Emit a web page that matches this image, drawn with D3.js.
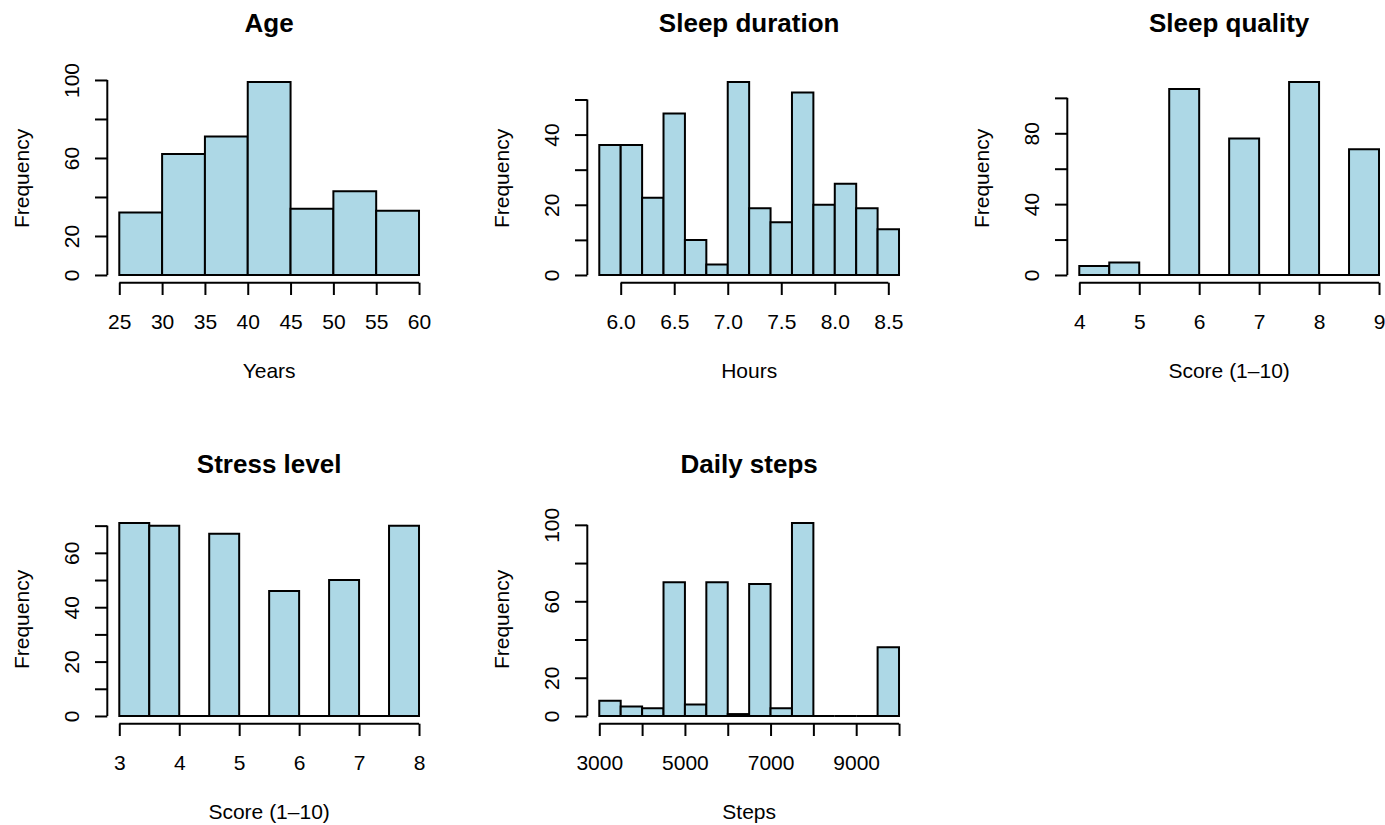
<!DOCTYPE html>
<html>
<head>
<meta charset="utf-8">
<script src="https://cdn.jsdelivr.net/npm/d3@7"></script>
<style>
  html, body { margin: 0; padding: 0; background: #fff; }
  svg { display: block; }
  text { font-family: "Liberation Sans", Arial, Helvetica, sans-serif; fill: #000; }
</style>
</head>
<body>
<svg id="chart" width="1385" height="825"></svg>
<script>
// ---- Data ----
const titles = ["Age", "Sleep duration", "Sleep quality", "Stress level", "Daily steps"];
const xTitles = ["Years", "Hours", "Score (1–10)", "Score (1–10)", "Steps"];

const ageBreaks = [25, 30, 35, 40, 45, 50, 55, 60];
const ageCounts = [32, 62, 71, 99, 34, 43, 33];

const sleepDurBreaks = [5.8, 6.0, 6.2, 6.4, 6.6, 6.8, 7.0, 7.2, 7.4, 7.6, 7.8, 8.0, 8.2, 8.4, 8.6];
const sleepDurCounts = [37, 37, 22, 46, 10, 3, 55, 19, 15, 52, 20, 26, 19, 13];

const sleepQualBreaks = [4, 4.5, 5, 5.5, 6, 6.5, 7, 7.5, 8, 8.5, 9];
const sleepQualCounts = [5, 7, 0, 105, 0, 77, 0, 109, 0, 71];

const stressBreaks = [3, 3.5, 4, 4.5, 5, 5.5, 6, 6.5, 7, 7.5, 8];
const stressCounts = [71, 70, 0, 67, 0, 46, 0, 50, 0, 70];

const stepsBreaks = [3000, 3500, 4000, 4500, 5000, 5500, 6000, 6500, 7000, 7500, 8000, 8500, 9000, 9500, 10000];
const stepsCounts = [8, 5, 4, 70, 6, 70, 1, 69, 4, 101, 0, 0, 0, 36];

const ageXTicks = [25, 30, 35, 40, 45, 50, 55, 60];
const ageXLabels = ["25", "30", "35", "40", "45", "50", "55", "60"];
const sleepDurXTicks = [6.0, 6.5, 7.0, 7.5, 8.0, 8.5];
const sleepDurXLabels = ["6.0", "6.5", "7.0", "7.5", "8.0", "8.5"];
const sleepQualXTicks = [4, 5, 6, 7, 8, 9];
const sleepQualXLabels = ["4", "5", "6", "7", "8", "9"];
const stressXTicks = [3, 4, 5, 6, 7, 8];
const stressXLabels = ["3", "4", "5", "6", "7", "8"];
const stepsXTicks = [3000, 4000, 5000, 6000, 7000, 8000, 9000, 10000];
const stepsXLabels = ["3000", "", "5000", "", "7000", "", "9000", ""];

const ageYTicks = [0, 20, 40, 60, 80, 100];
const ageYLabels = ["0", "20", "", "60", "", "100"];
const sleepDurYTicks = [0, 10, 20, 30, 40, 50];
const sleepDurYLabels = ["0", "", "20", "", "40", ""];
const sleepQualYTicks = [0, 20, 40, 60, 80, 100];
const sleepQualYLabels = ["0", "", "40", "", "80", ""];
const stressYTicks = [0, 10, 20, 30, 40, 50, 60, 70];
const stressYLabels = ["0", "", "20", "", "40", "", "60", ""];
const stepsYTicks = [0, 20, 40, 60, 80, 100];
const stepsYLabels = ["0", "20", "", "60", "", "100"];

const panels = [
  { breaks: ageBreaks, counts: ageCounts, xt: ageXTicks, xl: ageXLabels, yt: ageYTicks, yl: ageYLabels },
  { breaks: sleepDurBreaks, counts: sleepDurCounts, xt: sleepDurXTicks, xl: sleepDurXLabels, yt: sleepDurYTicks, yl: sleepDurYLabels },
  { breaks: sleepQualBreaks, counts: sleepQualCounts, xt: sleepQualXTicks, xl: sleepQualXLabels, yt: sleepQualYTicks, yl: sleepQualYLabels },
  { breaks: stressBreaks, counts: stressCounts, xt: stressXTicks, xl: stressXLabels, yt: stressYTicks, yl: stressYLabels },
  { breaks: stepsBreaks, counts: stepsCounts, xt: stepsXTicks, xl: stepsXLabels, yt: stepsYTicks, yl: stepsYLabels }
];

// ---- Layout ----
const colStep = 480, rowStep = 441;
const plotL = 107.3, plotR = 431, plotT = 74.2, plotB = 282.7;
const fontSize = 21;
const tickLen = 12.3;
const lw = 2;
const fill = "#ADD8E6";

const svg = d3.select("#chart");

panels.forEach((p, i) => {
  const col = i % 3, row = Math.floor(i / 3);
  const g = svg.append("g").attr("transform", `translate(${col * colStep},${row * rowStep})`);

  const xmin = p.breaks[0], xmax = p.breaks[p.breaks.length - 1];
  const xr = xmax - xmin;
  const x = d3.scaleLinear().domain([xmin - 0.04 * xr, xmax + 0.04 * xr]).range([plotL, plotR]);
  const ymax = d3.max(p.counts);
  const y = d3.scaleLinear().domain([-0.04 * ymax, 1.04 * ymax]).range([plotB, plotT]);

  // bars
  const bins = p.counts.map((c, k) => ({ x0: p.breaks[k], x1: p.breaks[k + 1], c }));
  g.selectAll("path.bar").data(bins).join("path")
    .attr("class", "bar")
    .attr("d", d => `M${x(d.x0)},${y(0)}V${y(d.c)}H${x(d.x1)}V${y(0)}Z`)
    .attr("fill", fill)
    .attr("stroke", "#000")
    .attr("stroke-width", lw)
    .attr("stroke-linejoin", "miter");

  // x axis
  const xAxis = d3.axisBottom(x).tickValues(p.xt)
    .tickFormat((d, k) => p.xl[k]).tickSizeInner(tickLen).tickSizeOuter(0);
  const gx = g.append("g").attr("transform", `translate(0,${plotB})`).call(xAxis);
  gx.select(".domain").remove();
  gx.append("line")
    .attr("x1", x(p.xt[0])).attr("x2", x(p.xt[p.xt.length - 1]))
    .attr("y1", 0).attr("y2", 0)
    .attr("stroke", "#000").attr("stroke-width", lw);
  gx.selectAll(".tick line").attr("stroke", "#000").attr("stroke-width", lw);
  gx.selectAll(".tick text")
    .attr("y", 329 - plotB).attr("dy", null)
    .attr("font-size", fontSize)
    .attr("font-family", null);
  gx.attr("font-family", null).attr("font-size", null);

  // y axis
  const yAxis = d3.axisLeft(y).tickValues(p.yt)
    .tickFormat((d, k) => p.yl[k]).tickSizeInner(tickLen).tickSizeOuter(0);
  const gy = g.append("g").attr("transform", `translate(${plotL},0)`).call(yAxis);
  gy.select(".domain").remove();
  gy.append("line")
    .attr("x1", 0).attr("x2", 0)
    .attr("y1", y(p.yt[0])).attr("y2", y(p.yt[p.yt.length - 1]))
    .attr("stroke", "#000").attr("stroke-width", lw);
  gy.selectAll(".tick line").attr("stroke", "#000").attr("stroke-width", lw);
  gy.selectAll(".tick text")
    .attr("x", null).attr("dy", null)
    .attr("text-anchor", "middle")
    .attr("transform", `translate(${78.5 - plotL},0) rotate(-90)`)
    .attr("font-size", fontSize);
  gy.attr("font-family", null).attr("font-size", null);

  const cx = (plotL + plotR) / 2;
  // title
  g.append("text")
    .attr("x", cx).attr("y", 32.3)
    .attr("text-anchor", "middle")
    .attr("font-size", 26)
    .attr("font-weight", "bold")
    .text(titles[i]);

  // x title
  g.append("text")
    .attr("x", cx).attr("y", 378.3)
    .attr("text-anchor", "middle")
    .attr("font-size", fontSize)
    .text(xTitles[i]);

  // y title
  g.append("text")
    .attr("transform", `translate(28.5,${(plotT + plotB) / 2}) rotate(-90)`)
    .attr("text-anchor", "middle")
    .attr("font-size", fontSize)
    .text("Frequency");
});
</script>
</body>
</html>
